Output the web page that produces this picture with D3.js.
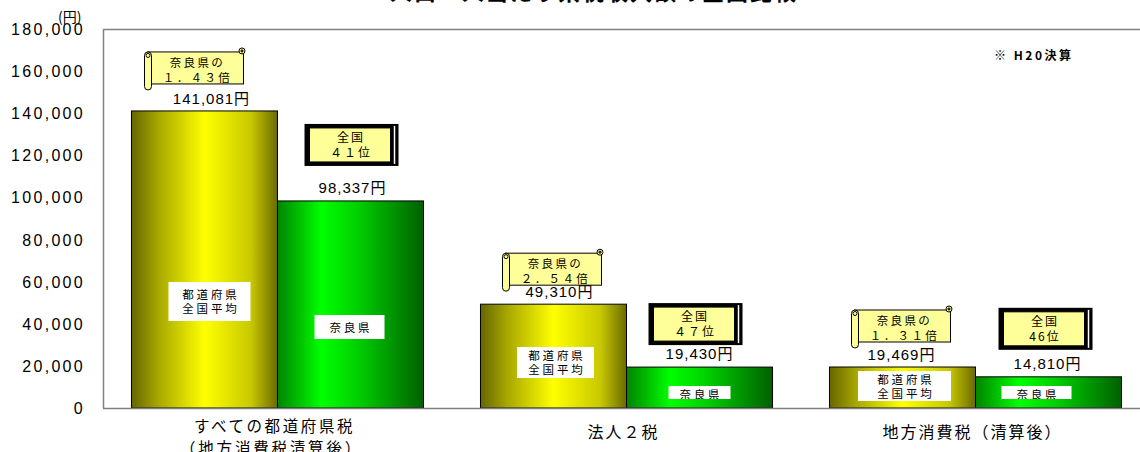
<!DOCTYPE html>
<html lang="ja">
<head>
<meta charset="utf-8">
<script src="https://cdn.jsdelivr.net/npm/d3@7"></script>
<style>
  html, body { margin: 0; padding: 0; background: #fff; }
  svg { display: block; }
  text { font-family: "Liberation Sans", "Noto Sans CJK JP", sans-serif; fill: #000; }
  .jp { font-family: "Noto Sans CJK JP", sans-serif; }
</style>
</head>
<body>
<svg id="chart" width="1140" height="452"></svg>
<script>
// 人口一人当たり税収額（平成20年度決算）
const categories = ["すべての都道府県税", "法人２税", "地方消費税（清算後）"];
const categorySubLabels = ["（地方消費税清算後）", "", ""];
const series = ["都道府県全国平均", "奈良県"];
const nationalAverage = [141081, 49310, 19469];
const naraValues = [98337, 19430, 14810];
const ratioLabels = ["１．４３倍", "２．５４倍", "１．３１倍"];
const rankLabels = ["４１位", "４７位", "46位"];
const yTickValues = [0, 20000, 40000, 60000, 80000, 100000, 120000, 140000, 160000, 180000];

const svg = d3.select("#chart");
const W = 1140, H = 452;
const plot = { left: 103, top: 29, right: 1150, bottom: 408 };

const y = d3.scaleLinear().domain([0, 180000]).range([plot.bottom, plot.top]);
const x = d3.scaleBand().domain(categories).range([plot.left, plot.right]).padding(0);
const xs = d3.scaleBand().domain(series).range([0, x.bandwidth()]).paddingInner(0).paddingOuter(0.195);

// gradients
const defs = svg.append("defs");
const yellowGrad = defs.append("linearGradient").attr("id", "gYellow");
[[0, "#666600"], [0.18, "#a6a600"], [0.5, "#ffff00"], [0.82, "#c8c800"], [1, "#6a6a00"]]
  .forEach(([o, c]) => yellowGrad.append("stop").attr("offset", o).attr("stop-color", c));
const greenGrad = defs.append("linearGradient").attr("id", "gGreen");
[[0, "#008400"], [0.3, "#00ff00"], [0.55, "#00d000"], [1, "#006000"]]
  .forEach(([o, c]) => greenGrad.append("stop").attr("offset", o).attr("stop-color", c));

// title (top line)
svg.append("text").attr("class", "jp")
  .attr("x", 594).attr("y", 0).attr("text-anchor", "middle")
  .attr("font-size", 22).attr("font-weight", "bold").attr("letter-spacing", 2)
  .text("人口一人当たり県税収入額の全国比較");

// frame lines
svg.append("line").attr("x1", plot.left).attr("x2", W).attr("y1", plot.top + 0.5).attr("y2", plot.top + 0.5)
  .attr("stroke", "#808080").attr("stroke-width", 1.5);
svg.append("line").attr("x1", plot.left + 0.5).attr("x2", plot.left + 0.5).attr("y1", plot.top).attr("y2", plot.bottom)
  .attr("stroke", "#808080").attr("stroke-width", 1.5);

// y axis labels
const fmt = d3.format(",");
svg.append("g").selectAll("text").data(yTickValues).join("text")
  .attr("x", 85).attr("y", d => y(d) + 6)
  .attr("text-anchor", "end").attr("font-size", 16).attr("letter-spacing", 2.3)
  .text(d => fmt(d));
svg.append("text").attr("class", "jp").attr("x", 58).attr("y", 22).attr("font-size", 14)
  .text("(円)");

// bars
const rows = categories.map((c, i) => ({ c, i, avg: nationalAverage[i], nara: naraValues[i] }));
const g = svg.append("g");
rows.forEach(r => {
  const bx = x(r.c);
  g.append("rect")
    .attr("x", bx + xs(series[0])).attr("y", y(r.avg))
    .attr("width", xs.bandwidth()).attr("height", y(0) - y(r.avg))
    .attr("fill", "url(#gYellow)").attr("stroke", "#000").attr("stroke-width", 1);
  g.append("rect")
    .attr("x", bx + xs(series[1])).attr("y", y(r.nara))
    .attr("width", xs.bandwidth()).attr("height", y(0) - y(r.nara))
    .attr("fill", "url(#gGreen)").attr("stroke", "#000").attr("stroke-width", 1);
});

// baseline
svg.append("line").attr("x1", plot.left).attr("x2", W).attr("y1", plot.bottom + 0.5).attr("y2", plot.bottom + 0.5)
  .attr("stroke", "#808080").attr("stroke-width", 1.5);

// white label boxes inside bars (text clipped to the box)
const boxLayout = [
  { avg: { dx: 5, w: 82, top: 282, h: 39 }, nara: { dx: -1, w: 70, top: 315, h: 24 } },
  { avg: { dx: 2, w: 77, top: 347, h: 31 }, nara: { dx: 0, w: 62, top: 386, h: 13 } },
  { avg: { dx: 2, w: 93, top: 371, h: 30 }, nara: { dx: -12, w: 70, top: 386, h: 13 } }
];
rows.forEach((r, i) => {
  const L = boxLayout[i];
  const cA = x(r.c) + xs(series[0]) + xs.bandwidth() / 2 + L.avg.dx;
  const cN = x(r.c) + xs(series[1]) + xs.bandwidth() / 2 + L.nara.dx;
  const mk = (cx, b, lines, id) => {
    defs.append("clipPath").attr("id", id).append("rect")
      .attr("x", cx - b.w / 2).attr("y", b.top).attr("width", b.w).attr("height", b.h);
    g.append("rect").attr("x", cx - b.w / 2).attr("y", b.top).attr("width", b.w).attr("height", b.h).attr("fill", "#fff");
    const t = g.append("text").attr("class", "jp").attr("clip-path", `url(#${id})`)
      .attr("text-anchor", "middle").attr("font-size", 11.5).attr("letter-spacing", 2.8);
    const mid = b.top + b.h / 2;
    const lh = 14;
    const start = lines.length === 1 ? mid + 4.5 : mid - lh / 2 + 4.5;
    const yy = b.h < 20 ? b.top + 13 : start;
    lines.forEach((ln, k) => t.append("tspan").attr("x", cx + 1.4).attr("y", yy + k * lh).text(ln));
  };
  mk(cA, L.avg, ["都道府県", "全国平均"], "clipA" + i);
  mk(cN, L.nara, ["奈良県"], "clipN" + i);
});

// value labels
const valueText = v => fmt(v) + "円";
const avgLabelDx = [7, 6, -1];
const naraLabelDx = [2, 0, -1];
rows.forEach((r, i) => {
  g.append("text").attr("x", x(r.c) + xs(series[0]) + xs.bandwidth() / 2 + avgLabelDx[i]).attr("y", y(r.avg) - 7)
    .attr("text-anchor", "middle").attr("font-size", 15).attr("letter-spacing", 1).text(valueText(r.avg));
  g.append("text").attr("x", x(r.c) + xs(series[1]) + xs.bandwidth() / 2 + naraLabelDx[i]).attr("y", y(r.nara) - 8)
    .attr("text-anchor", "middle").attr("font-size", 15).attr("letter-spacing", 1).text(valueText(r.nara));
});

// scroll callouts: ratio of national average to Nara
const scrollLayout = [{ dx: -10, gap: 21 }, { dx: -1, gap: 13 }, { dx: -1, gap: 19 }];
rows.forEach((r, i) => {
  const cx = x(r.c) + xs(series[0]) + xs.bandwidth() / 2 + scrollLayout[i].dx;
  const w = 100, h = 43;
  const x0 = cx - w / 2, x1 = cx + w / 2;
  const y1 = y(r.avg) - scrollLayout[i].gap, y0 = y1 - h;
  const s = g.append("g").attr("stroke", "#000").attr("stroke-width", 1).attr("fill", "#ffff99");
  s.append("rect").attr("x", x0 + 3).attr("y", y0 + 5).attr("width", w - 4).attr("height", h - 11);
  s.append("rect").attr("x", x0).attr("y", y0 + 5).attr("width", 7).attr("height", h - 5).attr("rx", 3.5);
  s.append("circle").attr("cx", x0 + 3.5).attr("cy", y0 + 8.5).attr("r", 2);
  s.append("circle").attr("cx", x1 - 2.5).attr("cy", y0 + 4).attr("r", 3);
  s.append("circle").attr("cx", x1 - 2.5).attr("cy", y0 + 4).attr("r", 1.1).attr("fill", "#808040");
  const t = g.append("text").attr("class", "jp").attr("text-anchor", "middle").attr("font-size", 11.5).attr("letter-spacing", 2.4);
  t.append("tspan").attr("x", cx + 3).attr("y", y0 + 20).text("奈良県の");
  t.append("tspan").attr("x", cx + 3).attr("y", y0 + 35).text(ratioLabels[i]);
});

// rank boxes (national rank of Nara)
const rankLayout = [{ dx: 1, gap: 35 }, { dx: -4, gap: 22 }, { dx: -3, gap: 27 }];
rows.forEach((r, i) => {
  const cx = x(r.c) + xs(series[1]) + xs.bandwidth() / 2 + rankLayout[i].dx;
  const w = 94, h = 42;
  const x0 = cx - w / 2;
  const y1 = y(r.nara) - rankLayout[i].gap, y0 = y1 - h;
  g.append("rect").attr("x", x0).attr("y", y0).attr("width", w).attr("height", h).attr("fill", "#000");
  g.append("rect").attr("x", x0 + 5).attr("y", y0 + 4).attr("width", w - 13).attr("height", h - 8)
    .attr("fill", "#ffff99").attr("stroke", "#000").attr("stroke-width", 1);
  g.append("line").attr("x1", x0 + w - 4).attr("x2", x0 + w - 4).attr("y1", y0 + 2).attr("y2", y1 - 2)
    .attr("stroke", "#fff").attr("stroke-width", 1.5);
  const t = g.append("text").attr("class", "jp").attr("text-anchor", "middle").attr("font-size", 12).attr("letter-spacing", 2);
  t.append("tspan").attr("x", x0 + 5 + (w - 13) / 2 + 1).attr("y", y0 + 18).text("全国");
  t.append("tspan").attr("x", x0 + 5 + (w - 13) / 2 + 1).attr("y", y0 + 33).text(rankLabels[i]);
});

// category labels
rows.forEach((r, i) => {
  const cx = x(r.c) + x.bandwidth() / 2;
  const two = categorySubLabels[i] !== "";
  svg.append("text").attr("class", "jp").attr("x", cx - 3).attr("y", two ? 432 : 438)
    .attr("text-anchor", "middle").attr("font-size", two ? 15.5 : 16).attr("letter-spacing", two ? 2.6 : 2)
    .text(r.c);
  if (two) {
    svg.append("text").attr("class", "jp").attr("x", cx - 6).attr("y", 454)
      .attr("text-anchor", "middle").attr("font-size", 15.5).attr("letter-spacing", 2.8)
      .text(categorySubLabels[i]);
  }
});

// note
svg.append("text").attr("class", "jp").attr("x", 994).attr("y", 60)
  .attr("font-size", 12).attr("font-weight", "bold").attr("letter-spacing", 2.5)
  .text("※ H20決算");
</script>
</body>
</html>
